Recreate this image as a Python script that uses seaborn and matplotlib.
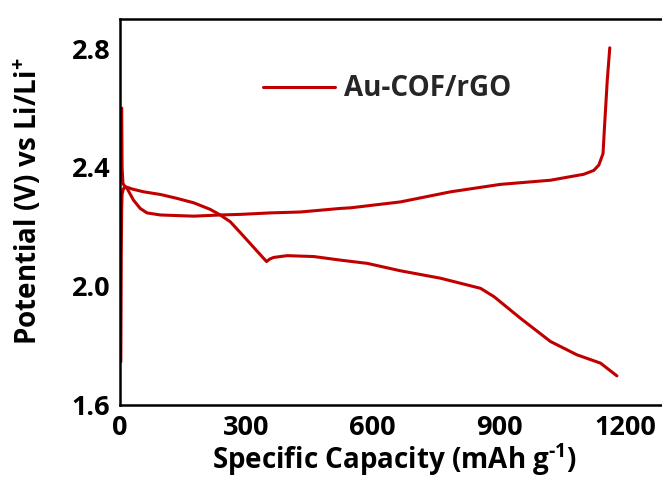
import matplotlib
matplotlib.use("Agg")
import matplotlib.pyplot as plt
import seaborn as sns
import pandas as pd

# Charge curve (starts high, plateau ~2.24 V, rises to 2.8 V)
charge_cap = [4, 5, 7, 12, 17, 32, 48, 64, 96, 175, 238, 286, 357, 428, 523, 547, 666,
              785, 903, 1022, 1101, 1125, 1137, 1147, 1150, 1157, 1163]
charge_v = [2.60, 2.40, 2.346, 2.335, 2.329, 2.290, 2.262, 2.247, 2.240, 2.236, 2.240,
            2.242, 2.247, 2.250, 2.262, 2.264, 2.284, 2.318, 2.343, 2.357, 2.377, 2.39,
            2.408, 2.447, 2.525, 2.693, 2.803]

# Discharge curve (starts at 1.75 V, dip near 350, falls to 1.70 V)
dis_cap = [2, 3, 4, 5, 8, 13, 30, 56, 96, 135, 175, 214, 238, 262, 286, 348, 356, 365,
           397, 460, 523, 587, 666, 761, 856, 888, 951, 1022, 1085, 1141, 1180]
dis_v = [1.746, 2.10, 2.26, 2.31, 2.328, 2.335, 2.327, 2.318, 2.309, 2.296, 2.281, 2.259,
         2.240, 2.217, 2.18, 2.083, 2.092, 2.097, 2.103, 2.100, 2.088, 2.077, 2.052, 2.027,
         1.993, 1.965, 1.892, 1.814, 1.769, 1.741, 1.698]

x_ticks = [0, 300, 600, 900, 1200]
y_ticks = [1.6, 2.0, 2.4, 2.8]
label = "Au-COF/rGO"
color = "#C00000"

FONT = "Open Sans"

sns.set_theme(style="white")
plt.rcParams["font.family"] = [FONT, "DejaVu Sans"]
plt.rcParams["font.weight"] = "bold"
plt.rcParams["mathtext.fontset"] = "custom"
plt.rcParams["mathtext.rm"] = FONT + ":bold"
plt.rcParams["mathtext.it"] = FONT + ":bold"
plt.rcParams["mathtext.bf"] = FONT + ":bold"

df_c = pd.DataFrame({"cap": charge_cap, "v": charge_v})
df_d = pd.DataFrame({"cap": dis_cap, "v": dis_v})

fig = plt.figure(figsize=(6.62, 4.86), dpi=100)
ax = fig.add_axes([120 / 662, 81 / 486, 542 / 662, 386 / 486])

sns.lineplot(data=df_c, x="cap", y="v", sort=False, color=color, lw=2.2, ax=ax, label=label)
sns.lineplot(data=df_d, x="cap", y="v", sort=False, color=color, lw=2.2, ax=ax)

ax.set_xlim(0, 1287)
ax.set_ylim(1.6, 2.9)
ax.set_xticks(x_ticks)
ax.set_xticklabels([str(t) for t in x_ticks])
ax.set_yticks(y_ticks)
ax.set_yticklabels([f"{t:.1f}" for t in y_ticks])

ax.spines["right"].set_visible(False)
for s in ["left", "bottom", "top"]:
    ax.spines[s].set_color("black")
    ax.spines[s].set_linewidth(1.8)

ax.tick_params(axis="both", direction="in", length=5, width=1.6, colors="black",
               labelsize=19.5, pad=7)
for t in ax.get_xticklabels() + ax.get_yticklabels():
    t.set_fontweight("bold")
    t.set_fontfamily(FONT)

ax.set_xlabel(r"Specific Capacity (mAh g$^{\text{-}1}$)", fontsize=20, fontweight="bold",
              color="black", family=FONT)
ax.set_ylabel("Potential (V) vs Li/Li$^{+}$", fontsize=20, fontweight="bold",
              color="black", family=FONT)
ax.xaxis.set_label_coords((394 - 120) / 542, -(478 - 405) / 386)
ax.xaxis.label.set_va("bottom")
ax.yaxis.set_label_coords(-(120 - 28) / 542, (405 - 201) / 386)
ax.yaxis.label.set_va("center")

leg = ax.legend(loc="center left", bbox_to_anchor=(263 / 662, 1 - 89 / 486),
                bbox_transform=fig.transFigure, frameon=False, borderpad=0,
                borderaxespad=0, handlelength=2.6, handletextpad=0.3,
                prop={"family": FONT, "weight": "bold", "size": 20})

fig.savefig("out.png", dpi=100)
